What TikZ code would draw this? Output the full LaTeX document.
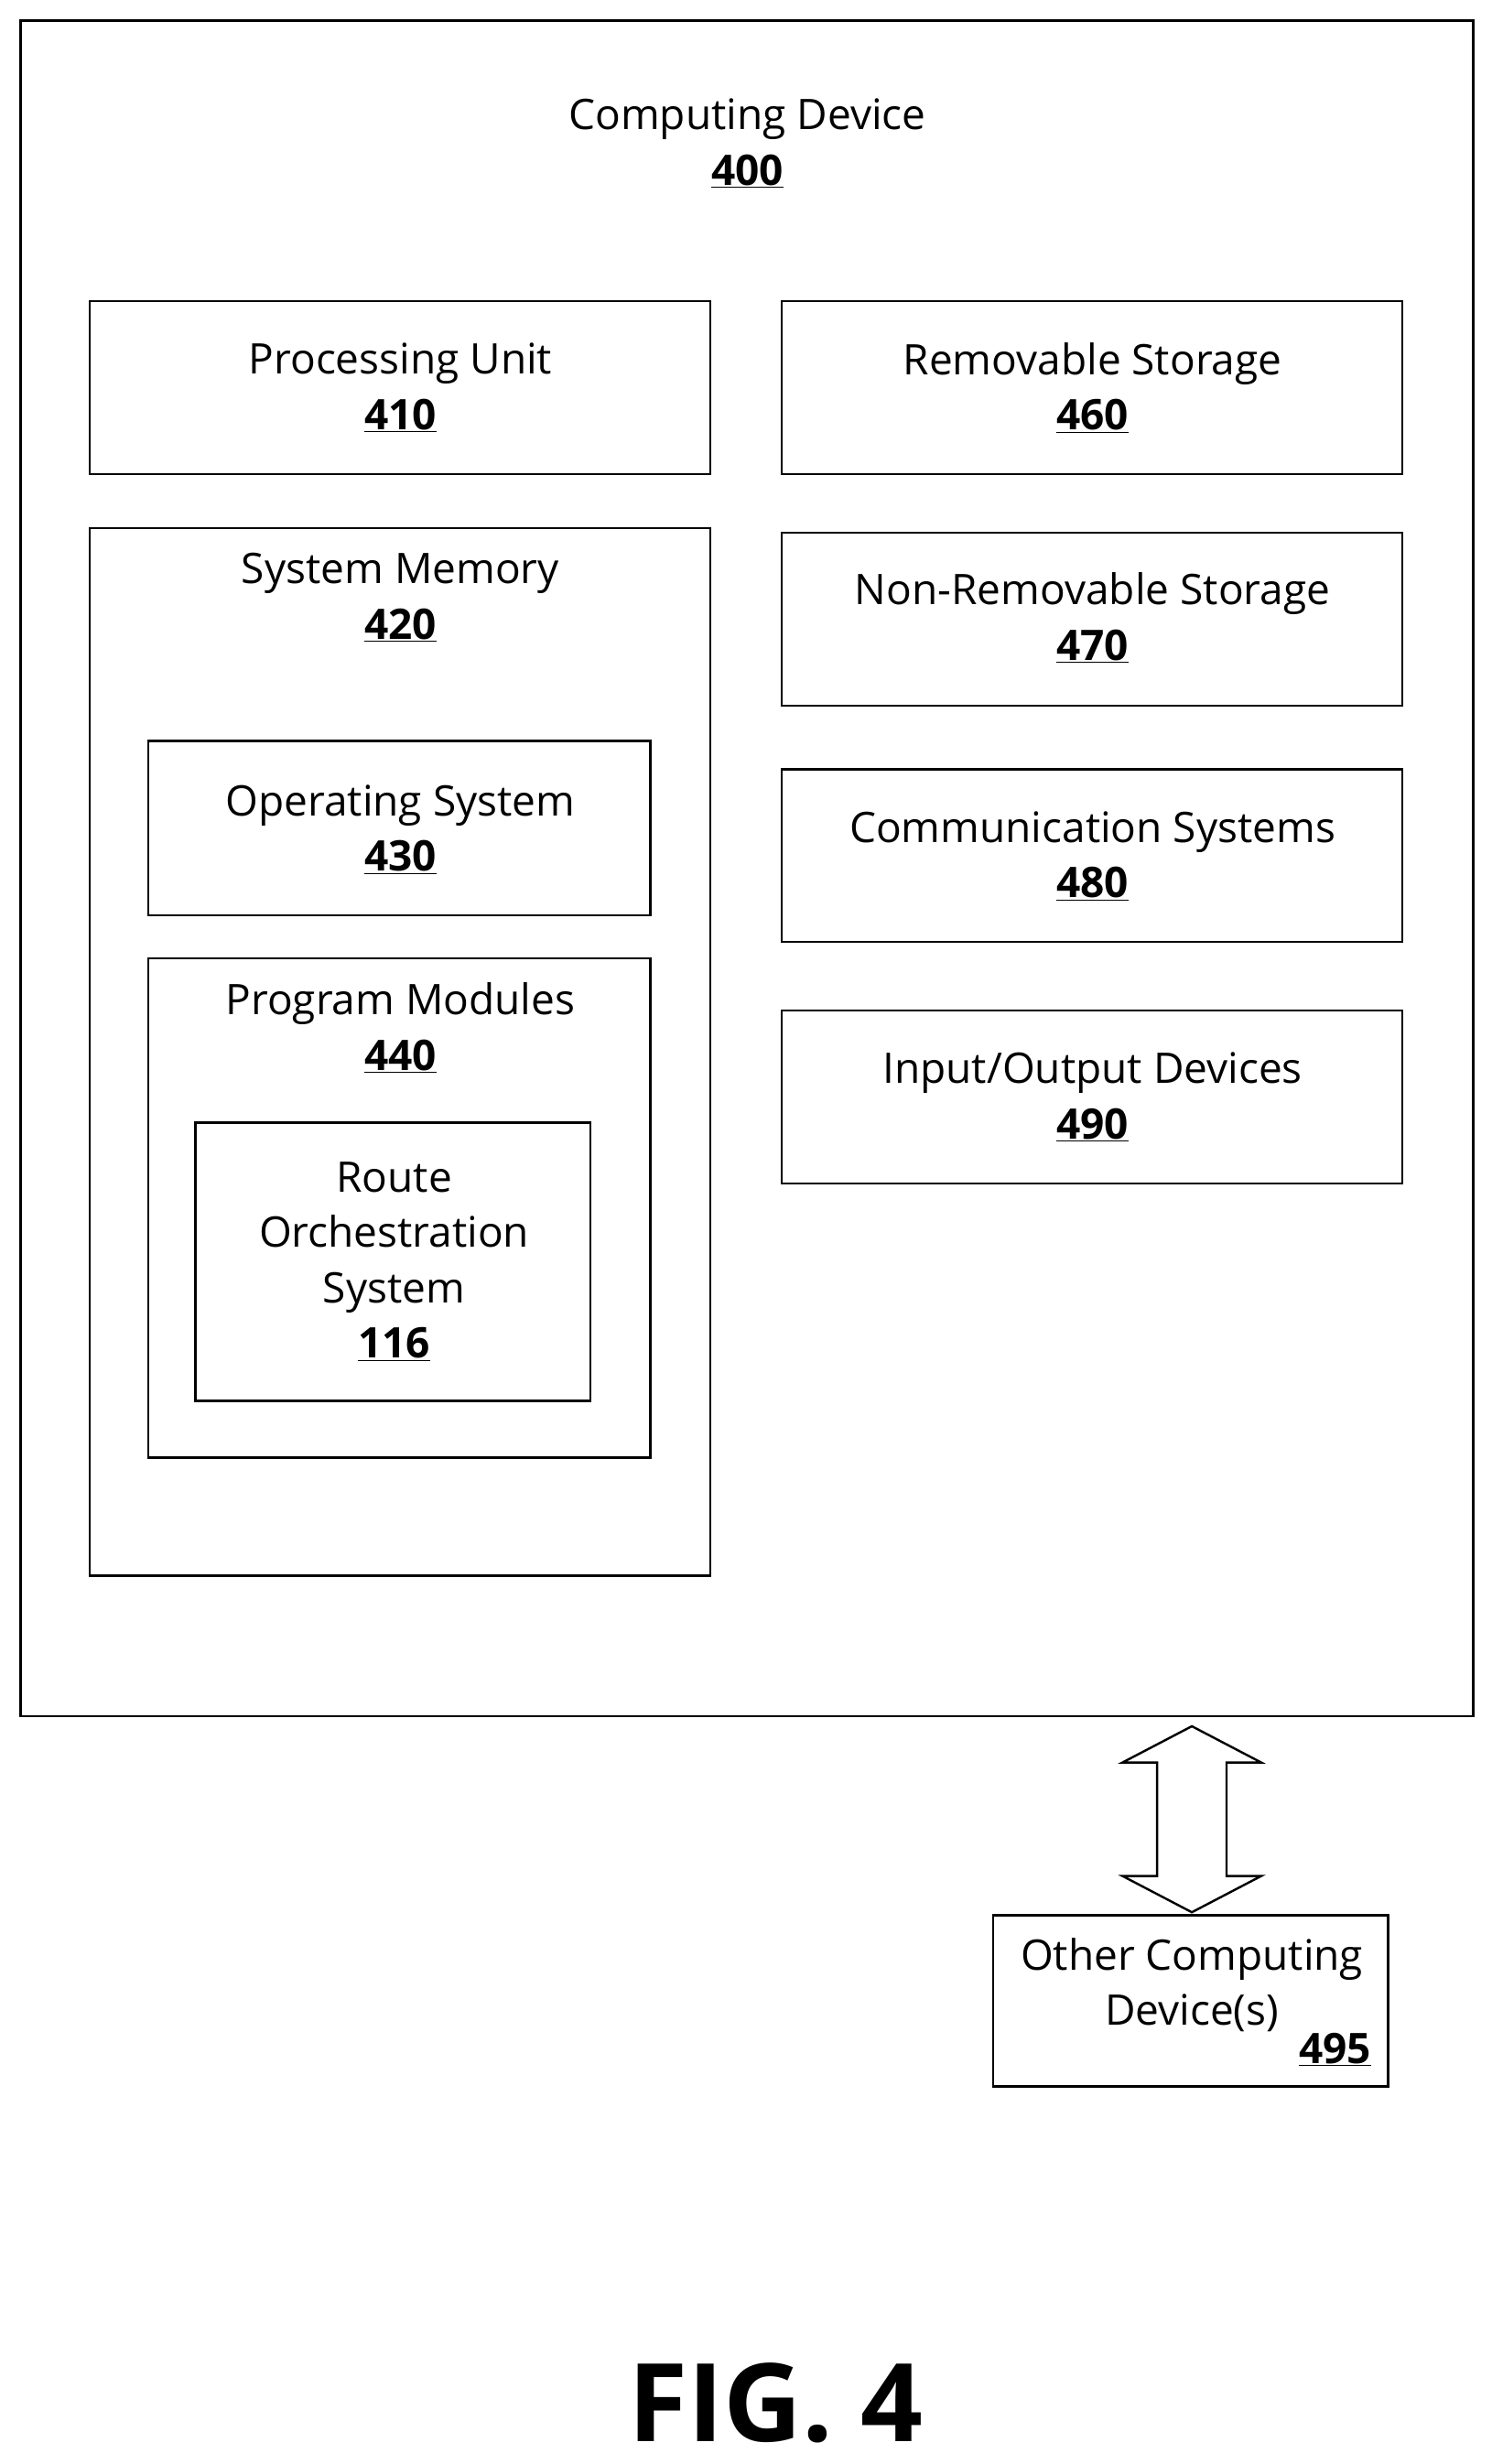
\documentclass[tikz,border=0pt]{standalone}
\usepackage{fontspec}
\setmainfont{Open Sans}
\begin{document}
\begin{tikzpicture}[x=0.05cm,y=-0.05cm,
  box/.style={draw,line width=2pt,inner sep=0,outer sep=0,anchor=north west},
  txt/.style={font=\fontsize{38}{50}\selectfont,align=center,inner sep=0},
  fig/.style={font=\fontsize{98}{110}\selectfont\bfseries,inner sep=0}]
\newcommand{\nm}[1]{\underline{\textbf{#1}}}
\useasboundingbox (0,0) rectangle (946,1563);
\newcommand{\bx}[5]{\node[box,minimum width={(#4-#2)*0.05cm-2pt},minimum height={(#5-#3)*0.05cm-2pt}] (#1) at (#2,#3) {};}
\bx{cd}{13}{13}{936}{1090}
\bx{pu}{57}{191}{452}{302}
\bx{rs}{496}{191}{891}{302}
\bx{sm}{57}{335}{452}{1001}
\bx{nrs}{496}{338}{891}{449}
\bx{cs}{496}{488}{891}{599}
\bx{io}{496}{641}{891}{752}
\bx{os}{94}{470}{414}{582}
\bx{pm}{94}{608}{414}{926}
\bx{ro}{124}{712}{376}{890}
\bx{oc}{630}{1215}{882}{1325}
\node[txt] (t400) at (474,91) {Computing Device\\\nm{400}};
\node[txt] (t410) at (254,246) {Processing Unit\\\nm{410}};
\node[txt] (t460) at (693,246) {Removable Storage\\\nm{460}};
\node[txt] (t420) at (254,379) {System Memory\\\nm{420}};
\node[txt] (t470) at (693,392) {Non-Removable Storage\\\nm{470}};
\node[txt] (t480) at (693,543) {Communication Systems\\\nm{480}};
\node[txt] (t490) at (693,696) {Input/Output Devices\\\nm{490}};
\node[txt] (t430) at (254,526) {Operating System\\\nm{430}};
\node[txt] (t440) at (254,652) {Program Modules\\\nm{440}};
\node[txt] (t116) at (250,800) {Route\\Orchestration\\System\\\nm{116}};
\node[txt] (t495) at (756,1259) {Other Computing\\Device(s)};
\node[txt] (n495) at (847,1300) {\nm{495}};
\coordinate (a1) at (756,1095);
\coordinate (a2) at (756,1213);
\draw[line width=2pt,line join=miter] (a1) -- (800,1118) -- (778,1118) -- (778,1190) -- (800,1190) -- (a2) -- (712,1190) -- (734,1190) -- (734,1118) -- (712,1118) -- cycle;
\node[fig] (f4) at (492,1524) {FIG. 4};
\end{tikzpicture}
\end{document}
